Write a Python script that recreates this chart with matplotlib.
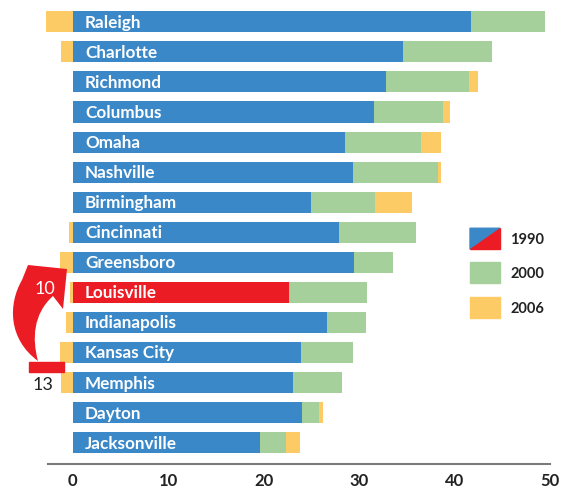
import numpy as np
import matplotlib
matplotlib.use("Agg")
from matplotlib import pyplot as plt
from matplotlib.patches import Rectangle, Polygon, PathPatch
from matplotlib.path import Path
from matplotlib.transforms import Affine2D

cities = ["Raleigh", "Charlotte", "Richmond", "Columbus", "Omaha", "Nashville",
          "Birmingham", "Cincinnati", "Greensboro", "Louisville", "Indianapolis",
          "Kansas City", "Memphis", "Dayton", "Jacksonville"]
v1990 = [41.7, 34.6, 32.8, 31.6, 28.5, 29.4, 25.0, 27.9, 29.5, 22.7, 26.6, 23.9, 23.1, 24.0, 19.6]
v2000 = [49.5, 43.9, 41.5, 38.8, 36.5, 38.3, 31.7, 36.0, 33.6, 30.8, 30.7, 29.4, 28.2, 25.8, 22.4]
v2006 = [46.7, 42.7, 42.5, 39.5, 38.6, 38.6, 35.5, 35.6, 32.3, 30.5, 30.0, 28.1, 27.0, 26.2, 23.8]
highlight = "Louisville"
xticks = [0, 10, 20, 30, 40, 50]
legend_labels = ["1990", "2000", "2006"]

BLUE = "#3b88c8"
GREEN = "#a6d09b"
YELLOW = "#fdcb66"
RED = "#ec1c24"
FONT = "Lato"

W, H = 566, 489
fig = plt.figure(figsize=(W / 100, H / 100), dpi=100)
ax = fig.add_axes([48 / W, 24 / H, 502 / W, 465 / H])

y = np.arange(len(cities))
h = 0.7
b1990 = np.array(v1990)
b2000 = np.array(v2000)
b2006 = np.array(v2006)

colors1990 = [RED if c == highlight else BLUE for c in cities]
ax.barh(y, b1990, height=h, color=colors1990, zorder=2)
ax.barh(y, b2000 - b1990, left=b1990, height=h, color=GREEN, zorder=2)
# 2006: gains stacked on the right, losses drawn left of zero
gain = b2006 - b2000
left06 = np.where(gain > 0, b2000, gain)
ax.barh(y, np.abs(gain), left=left06, height=h, color=YELLOW, zorder=2, clip_on=False)

for i, c in enumerate(cities):
    ax.text(1.3, i, c, color="white", fontsize=12.3, fontweight="bold",
            family=FONT, va="center", ha="left", zorder=3)

ax.set_xlim(-2.57, 50.0)
ax.set_ylim(14.71, -0.76)
for s in ["top", "right", "left"]:
    ax.spines[s].set_visible(False)
ax.spines["bottom"].set_color("#7a7a7a")
ax.spines["bottom"].set_linewidth(1.5)
ax.set_yticks([])
ax.set_xticks(xticks)
ax.set_xticklabels([str(t) for t in xticks], family=FONT, fontsize=12,
                   fontweight="bold", color="#222222")
ax.tick_params(axis="x", length=0, pad=6)

# rank change arrow (13 -> 10), drawn in pixel space (origin top-left)
px = Affine2D().scale(1, -1).translate(0, H)
verts = [(67, 270), (28, 266), (22, 281),
         (8, 305), (8, 340), (38, 362),
         (32, 340), (33, 315), (53, 297),
         (63, 310), (67, 270)]
codes = [Path.MOVETO, Path.LINETO, Path.LINETO,
         Path.CURVE4, Path.CURVE4, Path.CURVE4,
         Path.CURVE4, Path.CURVE4, Path.CURVE4,
         Path.LINETO, Path.CLOSEPOLY]
ax.add_patch(PathPatch(Path(verts, codes), color=RED, lw=0,
                       transform=px, clip_on=False, zorder=3))
ax.add_patch(Rectangle((-4.55, 11.31), 3.66, 0.33, color=RED, clip_on=False, zorder=3))
ax.text(-2.85, 8.87, "10", color="white", fontsize=13, family=FONT,
        ha="center", va="center", zorder=4)
ax.text(-3.05, 12.05, "13", color="#222222", fontsize=13, family=FONT,
        ha="center", va="center", zorder=4)

# legend
lx0, lx1 = (470 - 72.5) / 9.55, (500 - 72.5) / 9.55
ly = [(238 - 21) / 30.07, (272 - 21) / 30.07, (307 - 21) / 30.07]
lh = 0.7
ax.add_patch(Polygon([(lx0, ly[0] - lh / 2), (lx1, ly[0] - lh / 2), (lx0, ly[0] + lh / 2)],
                     color=BLUE, zorder=3))
ax.add_patch(Polygon([(lx1, ly[0] - lh / 2), (lx1, ly[0] + lh / 2), (lx0, ly[0] + lh / 2)],
                     color=RED, zorder=3))
ax.add_patch(Rectangle((lx0, ly[1] - lh / 2), lx1 - lx0, lh, color=GREEN, zorder=3))
ax.add_patch(Rectangle((lx0, ly[2] - lh / 2), lx1 - lx0, lh, color=YELLOW, zorder=3))
for yy, lab in zip(ly, legend_labels):
    ax.text((510 - 72.5) / 9.55, yy, lab, family=FONT, fontsize=10.5,
            fontweight="bold", color="#222222", va="center", ha="left")

fig.savefig("out.png", dpi=100)
